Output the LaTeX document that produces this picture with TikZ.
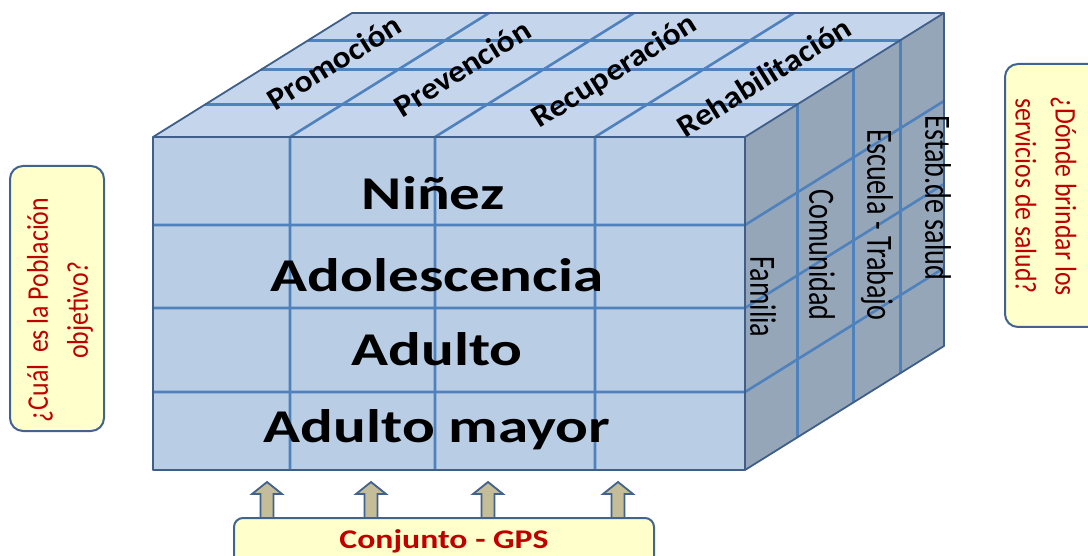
\documentclass[tikz,border=0pt]{standalone}
\usepackage{fontspec}
\setmainfont{Carlito}
\definecolor{gridc}{HTML}{4F81BD}
\definecolor{edgec}{HTML}{3F5F8A}
\definecolor{frontc}{HTML}{B9CDE5}
\definecolor{topc}{HTML}{C5D6EC}
\definecolor{sidec}{HTML}{95A6B9}
\definecolor{notec}{HTML}{FFFFCC}
\definecolor{redc}{HTML}{C00000}
\definecolor{tanc}{HTML}{C4BD97}
\definecolor{boxedge}{HTML}{41638E}
\begin{document}
\begin{tikzpicture}[x=1pt,y=-1pt,
  gridline/.style={draw=gridc,line width=2.6pt},
  outline/.style={draw=edgec,line width=1.8pt,line join=round},
  notebox/.style={fill=notec,draw=boxedge,line width=2pt,rounded corners=13pt},
  notetext/.style={text=redc,inner sep=0pt,align=center,font=\fontsize{30}{40}\selectfont},
  rowlabel/.style={anchor=base,inner sep=0pt,font=\fontsize{47}{50}\selectfont\bfseries},
  toplabel/.style={rotate=32,inner sep=0pt,font=\fontsize{31}{33}\selectfont\bfseries},
  sidelabel/.style={rotate=-90,inner sep=0pt,font=\fontsize{37}{40}\selectfont},
  uparrow/.style={fill=tanc,draw=boxedge,line width=1.8pt,line join=miter}]
\useasboundingbox (0,0) rectangle (1088,556);
\fill[white] (0,0) rectangle (1088,556);
% faces
\coordinate (F1) at (153,137); \coordinate (F2) at (745,137);
\coordinate (F3) at (745,470); \coordinate (F4) at (153,470);
\coordinate (B1) at (352,13); \coordinate (B2) at (944,13);
\coordinate (B3) at (944,346);
\fill[frontc] (F1) -- (F2) -- (F3) -- (F4) -- cycle;
\fill[topc] (F1) -- (B1) -- (B2) -- (F2) -- cycle;
\fill[sidec] (F2) -- (B2) -- (B3) -- (F3) -- cycle;
% grid
\foreach \f in {0.263,0.545,0.78}{
  \draw[gridline] ({153+199*\f},{137-124*\f}) -- ({745+199*\f},{137-124*\f}) -- ({745+199*\f},{470-124*\f});
}
\foreach \xi in {290,435,595}{
  \draw[gridline] (\xi,470) -- (\xi,137) -- ({\xi+199},13);
}
\foreach \yj in {225,308,392}{
  \draw[gridline] (153,\yj) -- (745,\yj) -- (944,{\yj-124});
}
% outlines
\draw[outline] (F1) -- (F2) -- (F3) -- (F4) -- cycle;
\draw[outline] (F1) -- (B1) -- (B2) -- (F2);
\draw[outline] (B2) -- (B3) -- (F3);
% front labels
\node[rowlabel] (ninez) at (433,210) {\scalebox{1.3}[1]{Niñez}};
\node[rowlabel] (adol) at (437,292) {\scalebox{1.3}[1]{Adolescencia}};
\node[rowlabel] (adulto) at (437,365) {\scalebox{1.3}[1]{Adulto}};
\node[rowlabel] (mayor) at (437,442) {\scalebox{1.3}[1]{Adulto mayor}};
% top labels
\node[toplabel] (prom) at (334,62) {\scalebox{1.08}[1]{Promoción}};
\node[toplabel] (prev) at (462,68) {\scalebox{1.08}[1]{Prevención}};
\node[toplabel] (recu) at (615,72) {\scalebox{1.08}[1]{Recuperación}};
\node[toplabel] (reha) at (764,77) {\scalebox{1.08}[1]{Rehabilitación}};
% side labels
\node[sidelabel] (fam) at (763,297) {\scalebox{0.76}[1]{Familia}};
\node[sidelabel] (com) at (822,255) {\scalebox{0.76}[1]{Comunidad}};
\node[sidelabel] (esc) at (877,225) {\scalebox{0.76}[1]{Escuela - Trabajo}};
\node[sidelabel] (est) at (938,198) {\scalebox{0.76}[1]{Estab.de salud}};
% note boxes
\draw[notebox] (10,166) rectangle (104,431);
\node[notetext,rotate=90] (q1) at (60,310) {\scalebox{0.86}[1]{¿Cuál\ \ es la Población}\\\scalebox{0.86}[1]{objetivo?}};
\draw[notebox] (1005,64) rectangle (1110,327);
\node[notetext,rotate=-90] (q2) at (1046,196) {\scalebox{0.86}[1]{¿Dónde brindar los}\\\scalebox{0.86}[1]{servicios de salud?}};
\draw[notebox,rounded corners=9pt] (234,518) rectangle (654,580);
\node[text=redc,anchor=base,inner sep=0pt,font=\fontsize{27}{30}\selectfont\bfseries] (gps) at (444,548) {\scalebox{1.25}[1]{Conjunto - GPS}};
% arrows
\foreach \cx in {267,371,488,618}{
  \draw[uparrow] ({\cx-6.5},518) -- ({\cx-6.5},494) -- ({\cx-15},494) -- (\cx,482) -- ({\cx+15},494) -- ({\cx+6.5},494) -- ({\cx+6.5},518) -- cycle;
}
\end{tikzpicture}
\end{document}
